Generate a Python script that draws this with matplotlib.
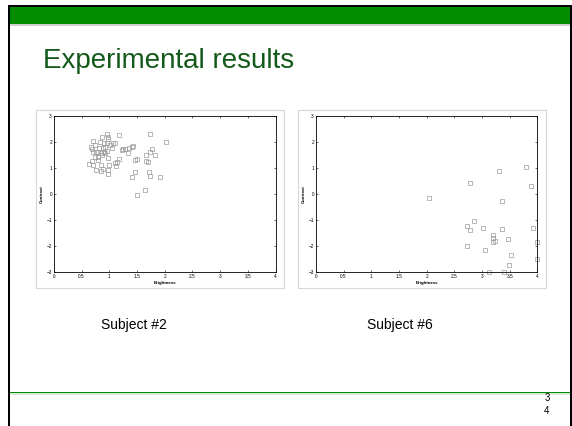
import matplotlib
matplotlib.use('Agg')
import matplotlib.pyplot as plt
from matplotlib.patches import Rectangle

# --- data (brightness, contrast) ---
s2_bright = [0.66, 0.71, 0.74, 0.68, 0.71, 0.75, 0.79, 0.64, 0.69, 0.71,
             0.75, 0.74, 0.80, 0.84, 0.84, 0.89, 0.85, 0.87, 0.81, 0.83,
             0.87, 0.91, 0.89, 0.92, 0.95, 0.965, 0.98, 0.98, 0.95, 0.98,
             0.98, 0.98, 1.01, 1.04, 1.06, 1.10, 1.18, 1.11, 1.12, 1.14,
             1.18, 1.22, 1.25, 1.29, 1.33, 1.36, 1.40, 1.42, 1.41, 1.46,
             1.46, 1.50, 1.49, 1.635, 1.66, 1.66, 1.69, 1.71, 1.73, 1.74,
             1.74, 1.77, 1.82, 1.91, 2.015, 0.79, 0.92, 0.90, 0.99]
s2_contr = [1.81, 2.02, 1.89, 1.71, 1.62, 1.62, 1.62, 1.15, 1.25, 1.10,
            0.92, 1.40, 1.30, 1.12, 0.89, 0.96, 1.56, 1.49, 1.75, 2.00,
            2.17, 1.94, 1.75, 1.81, 1.97, 2.30, 2.17, 2.09, 1.66, 1.37,
            0.92, 0.75, 1.88, 1.75, 1.94, 1.97, 2.25, 1.20, 1.07, 1.24,
            1.33, 1.69, 1.71, 1.74, 1.58, 1.77, 1.79, 1.84, 0.66, 0.83,
            1.29, 1.33, -0.03, 0.14, 1.48, 1.25, 1.23, 0.86, 0.69, 2.31,
            1.61, 1.71, 1.48, 0.64, 2.00, 1.40, 1.56, 1.62, 1.11]

s6_bright = [2.045, 2.78, 2.72, 2.79, 2.86, 2.735, 3.01, 3.06, 3.13, 3.20,
             3.20, 3.20, 3.24, 3.30, 3.35, 3.35, 3.39, 3.46, 3.49, 3.52,
             3.79, 3.88, 3.91, 3.99, 3.99]
s6_contr = [-0.17, 0.41, -1.23, -1.39, -1.05, -1.99, -1.31, -2.15, -3.0, -1.57,
            -1.70, -1.84, -1.81, 0.87, -0.26, -1.35, -3.0, -1.74, -2.73, -2.32,
            1.02, 0.29, -1.29, -1.84, -2.48]

subjects = ['Subject #2', 'Subject #6']
x_ticks = [0, 0.5, 1, 1.5, 2, 2.5, 3, 3.5, 4]
x_tick_lbl = ['0', '0.5', '1', '1.5', '2', '2.5', '3', '3.5', '4']
y_ticks = [-3, -2, -1, 0, 1, 2, 3]

W, H = 572, 426
verde = '#008c00'
verde_tit = '#13591a'

plt.rcParams['font.family'] = ['Liberation Sans', 'DejaVu Sans']

fig = plt.figure(figsize=(W / 100.0, H / 100.0), dpi=100)

# fundo do slide, em pixels.
bg = fig.add_axes([0, 0, 1, 1])
bg.set_xlim(0, W)
bg.set_ylim(H, 0)
bg.axis('off')

# borda preta e barra verde de cima.
bg.add_patch(Rectangle((8, 5), W, 3, color='black', lw=0))
bg.add_patch(Rectangle((8, 5), 2, H, color='black', lw=0))
bg.add_patch(Rectangle((569.5, 5), 2, H, color='black', lw=0))
bg.add_patch(Rectangle((10, 7), 560, 17, color=verde, lw=0))
bg.add_patch(Rectangle((10, 24), 560, 2, color='#cfcfcf', lw=0))

# linha verde de baixo.
bg.add_patch(Rectangle((10, 391.5), 560, 1.3, color=verde, lw=0))
bg.add_patch(Rectangle((10, 392.8), 560, 2, color='#dde9dd', lw=0))

# titulo.
bg.text(43, 68.5, 'Experimental results', fontsize=20, color=verde_tit,
        ha='left', va='baseline')

# numero do slide.
bg.text(547, 401, '3', fontsize=7, ha='center', va='baseline')
bg.text(547, 414, '4', fontsize=7, ha='center', va='baseline')

# molduras cinza dos graficos.
bg.add_patch(Rectangle((36, 110), 247.5, 177.5, fill=False,
                       ec='#d6d6d6', lw=0.8))
bg.add_patch(Rectangle((298, 110), 247.5, 177.5, fill=False,
                       ec='#d6d6d6', lw=0.8))

# -----------------------------------------------
# os dois graficos de dispersao.
# -----------------------------------------------
dados = [(s2_bright, s2_contr), (s6_bright, s6_contr)]
lefts = [54, 316]
lbl_x = [134, 400]

for i in range(2):
    ax = fig.add_axes([lefts[i] / W, 1 - 272.3 / H, 221.5 / W, 156.6 / H])
    bx, cy = dados[i]
    ax.plot(bx, cy, 's', ms=2.4, mfc='none', mec='#9a9a9a', mew=0.5,
            clip_on=False)
    ax.set_xlim(0, 4)
    ax.set_ylim(-3, 3)
    ax.set_xticks(x_ticks)
    ax.set_xticklabels(x_tick_lbl)
    ax.set_yticks(y_ticks)
    ax.tick_params(direction='in', length=1.5, width=0.4, labelsize=3.4,
                   pad=1.5, top=True, right=True)
    for s in ax.spines.values():
        s.set_linewidth(0.6)
    ax.set_xlabel('Brightness', fontsize=3.2, fontweight='bold', labelpad=1.5)
    ax.set_ylabel('Contrast', fontsize=3.2, fontweight='bold', labelpad=1.5)

    bg.text(lbl_x[i], 329, subjects[i], fontsize=10, ha='center',
            va='baseline')

fig.savefig('out.png', dpi=100)
